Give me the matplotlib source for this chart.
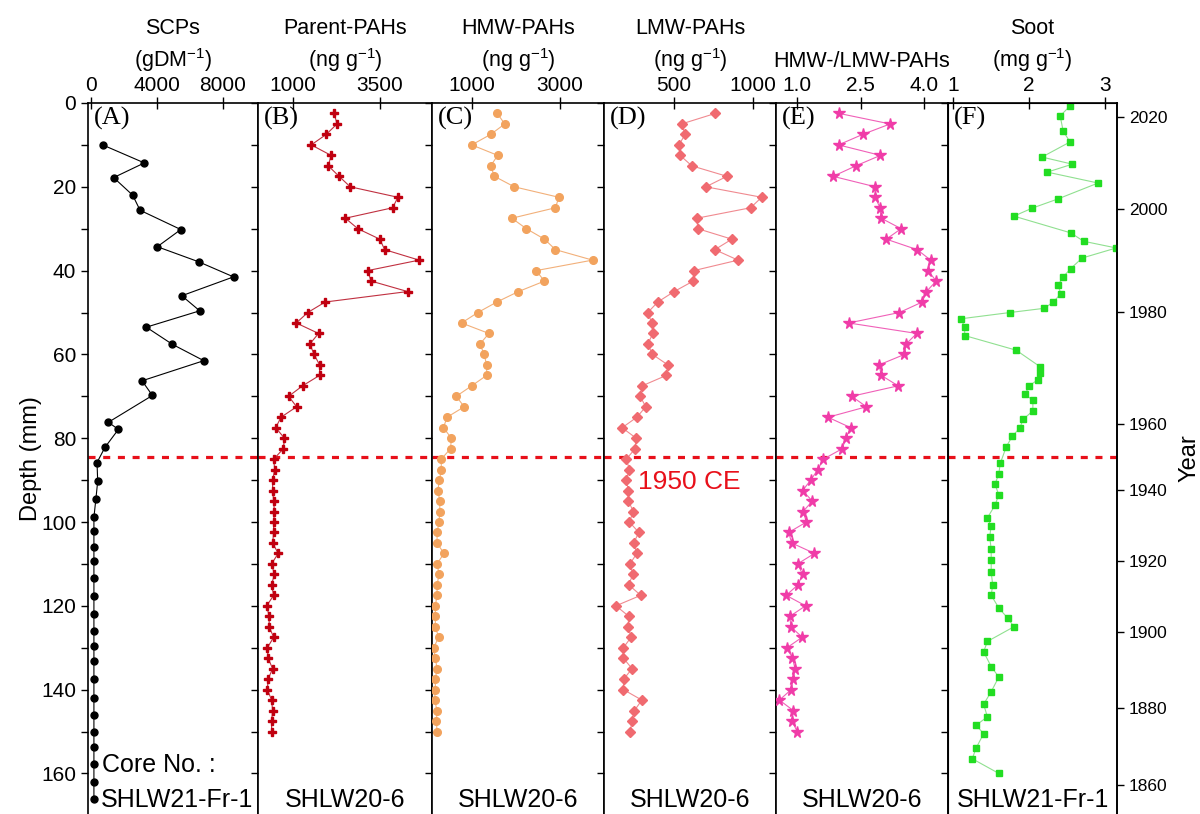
import matplotlib.pyplot as plt

plt.rcParams['font.family'] = ['Liberation Sans', 'DejaVu Sans']
plt.rcParams['mathtext.default'] = 'regular'

# core SHLW21-Fr-1 (SCPs)
depth_scp = [10, 14.3, 17.8, 22, 25.6, 30.2, 34.3, 37.9, 41.5, 46, 49.6, 53.5, 57.6, 61.5,
             66.3, 69.8, 76.2, 77.9, 82.2, 85.8, 90.3, 94.5, 98.9, 102.1, 105.9, 109.3,
             113.4, 117.6, 122, 126, 129.6, 133.1, 137.5, 141.9, 146.1, 150, 153.8, 157.8,
             162, 166.2]
scp = [690, 3230, 1360, 2520, 2970, 5450, 4020, 6540, 8660, 5510, 6600, 3350, 4940, 6850,
       3090, 3720, 1040, 1650, 830, 350, 390, 280, 160, 160, 160, 160, 160, 160, 160, 160,
       160, 160, 160, 160, 160, 160, 160, 160, 160, 160]

# core SHLW20-6
depth_pah = [2.5, 5, 7.5, 10, 12.5, 15, 17.5, 20, 22.5, 25, 27.5, 30, 32.5, 35, 37.5, 40,
             42.5, 45, 47.5, 50, 52.5, 55, 57.5, 60, 62.5, 65, 67.5, 70, 72.5, 75, 77.5, 80,
             82.5, 85, 87.5, 90, 92.5, 95, 97.5, 100, 102.5, 105, 107.5, 110, 112.5, 115,
             117.5, 120, 122.5, 125, 127.5, 130, 132.5, 135, 137.5, 140, 142.5, 145, 147.5, 150]
parent = [2190, 2270, 1960, 1530, 2100, 2020, 2330, 2650, 4020, 3870, 2510, 2870, 3500, 3640,
          4630, 3150, 3250, 4300, 1930, 1430, 1100, 1740, 1490, 1610, 1770, 1770, 1280, 880,
          1110, 660, 510, 760, 730, 450, 480, 420, 420, 450, 470, 450, 450, 420, 580, 390,
          470, 390, 450, 250, 320, 320, 450, 270, 290, 420, 290, 270, 390, 420, 390, 390]
hmw = [1580, 1750, 1430, 1000, 1590, 1430, 1515, 1965, 2975, 2900, 1910, 2240, 2650, 2900,
       3740, 2460, 2650, 2060, 1570, 1140, 770, 1390, 1190, 1280, 1340, 1340, 1000, 650, 830,
       440, 360, 540, 520, 310, 310, 270, 230, 280, 275, 260, 215, 215, 370, 215, 260, 215,
       215, 175, 175, 175, 250, 140, 175, 215, 175, 175, 160, 215, 200, 215]
lmw = [760, 547, 570, 530, 538, 612, 835, 701, 1055, 985, 644, 650, 866, 758, 905, 625, 621,
       500, 396, 333, 358, 365, 333, 362, 460, 451, 297, 284, 320, 263, 170, 259, 252, 197,
       216, 195, 210, 210, 241, 216, 276, 243, 263, 220, 238, 212, 288, 131, 212, 208, 227,
       178, 178, 233, 180, 178, 295, 248, 231, 223]
ratio = [2.00, 3.20, 2.55, 1.98, 2.97, 2.39, 1.85, 2.85, 2.85, 2.96, 2.99, 3.46, 3.11, 3.84,
         4.16, 4.10, 4.29, 4.06, 3.96, 3.42, 2.22, 3.83, 3.58, 3.54, 2.94, 2.99, 3.39, 2.29,
         2.64, 1.73, 2.27, 2.15, 2.07, 1.62, 1.49, 1.32, 1.13, 1.36, 1.14, 1.22, 0.80, 0.87,
         1.41, 1.01, 1.13, 1.02, 0.74, 1.20, 0.83, 0.85, 1.12, 0.76, 0.89, 0.95, 0.91, 0.86,
         0.58, 0.91, 0.88, 1.00]

# soot, core SHLW21-Fr-1
depth_soot = [0.7, 3.1, 6.7, 9.3, 12.9, 14.6, 16.5, 19.1, 22.9, 25.1, 27, 31, 33, 34.6, 37,
              39.5, 41.5, 43.5, 45.5, 47.5, 49, 50, 51.5, 53.5, 55.5, 59, 63, 64.5, 66, 67.5,
              69.5, 71, 73.5, 75.5, 77.5, 79.5, 82, 86, 88.5, 91, 93.5, 96, 99, 101, 103.5,
              106.5, 109, 112, 115, 117.5, 120.5, 123, 125, 128.5, 131, 134.5, 137, 140.5,
              143.5, 146.5, 148.5, 150.5, 154, 156.5, 160]
soot = [2.54, 2.41, 2.45, 2.54, 2.17, 2.57, 2.24, 2.91, 2.38, 2.04, 1.80, 2.55, 2.72, 3.15,
        2.70, 2.55, 2.45, 2.38, 2.42, 2.32, 2.20, 1.75, 1.10, 1.15, 1.15, 1.83, 2.15, 2.15,
        2.12, 2.00, 1.95, 2.05, 2.05, 1.92, 1.88, 1.78, 1.70, 1.62, 1.60, 1.55, 1.60, 1.55,
        1.45, 1.50, 1.48, 1.50, 1.50, 1.50, 1.52, 1.50, 1.60, 1.72, 1.80, 1.45, 1.40, 1.50,
        1.60, 1.50, 1.40, 1.45, 1.30, 1.40, 1.30, 1.25, 1.60]

years = [2020, 2000, 1980, 1960, 1940, 1920, 1900, 1880, 1860]
year_depth = [3.3, 25.3, 49.9, 76.6, 92.4, 109.3, 126.3, 144.4, 162.8]
depth_1950 = 84.6

W, H = 1200, 814
fig = plt.figure(figsize=(12, 8.14), dpi=100)
edges = [88, 258, 432, 604, 776, 948, 1117]
top_px = 103
ymax = (H - top_px) / 4.19

panels = [
    dict(x=scp, y=depth_scp, c='black', lc='black', m='o', ms=5, lim=(-200, 10150),
         ticks=[0, 4000, 8000], fmt='{:g}', title='SCPs\n(gDM$^{-1}$)', tag='(A)'),
    dict(x=parent, y=depth_pah, c='#C00010', lc='#C03040', m='P', ms=5.5, lim=(0, 5000),
         ticks=[1000, 3500], fmt='{:g}', title='Parent-PAHs\n(ng g$^{-1}$)', tag='(B)'),
    dict(x=hmw, y=depth_pah, c='#F2A35E', lc='#F2B07A', m='o', ms=5.5, lim=(100, 4000),
         ticks=[1000, 3000], fmt='{:g}', title='HMW-PAHs\n(ng g$^{-1}$)', tag='(C)'),
    dict(x=lmw, y=depth_pah, c='#F06A70', lc='#F08A90', m='D', ms=5, lim=(55, 1146),
         ticks=[500, 1000], fmt='{:g}', title='LMW-PAHs\n(ng g$^{-1}$)', tag='(D)'),
    dict(x=ratio, y=depth_pah, c='#F03CA8', lc='#F060B8', m='*', ms=8.5, lim=(0.5, 4.57),
         ticks=[1.0, 2.5, 4.0], fmt='{:.1f}', title='HMW-/LMW-PAHs', tag='(E)'),
    dict(x=soot, y=depth_soot, c='#22DD22', lc='#90E090', m='s', ms=4.5, lim=(0.93, 3.16),
         ticks=[1, 2, 3], fmt='{:g}', title='Soot\n(mg g$^{-1}$)', tag='(F)'),
]
cores = ['SHLW21-Fr-1', 'SHLW20-6', 'SHLW20-6', 'SHLW20-6', 'SHLW20-6', 'SHLW21-Fr-1']

axes = []
for i, p in enumerate(panels):
    ax = fig.add_axes([edges[i] / W, 0, (edges[i + 1] - edges[i]) / W, 1 - top_px / H])
    ax.plot(p['x'], p['y'], color=p['lc'], lw=0.8, marker=p['m'], ms=p['ms'],
            mfc=p['c'], mec=p['c'], zorder=3)
    ax.set_xlim(*p['lim'])
    ax.set_ylim(ymax, 0)
    ax.xaxis.tick_top()
    ax.set_xticks(p['ticks'])
    ax.set_xticklabels([p['fmt'].format(t) for t in p['ticks']])
    ax.tick_params(axis='x', direction='inout', length=8, width=1, labelsize=15, pad=2)
    ax.set_yticks(range(0, 170, 20))
    ax.set_yticks(range(10, 170, 20), minor=True)
    ax.tick_params(axis='y', which='both', direction='out', length=5, width=1,
                   left=True, right=(i < 5), labelsize=15)
    if i > 0:
        ax.tick_params(axis='y', labelleft=False)
    ax.spines['bottom'].set_visible(False)
    for s in ['top', 'left', 'right']:
        ax.spines[s].set_linewidth(1.2)
    ax.axhline(depth_1950, color='#E8101A', lw=2.3, dashes=(2.2, 2.4), zorder=2)
    ax.text(6 / (edges[i + 1] - edges[i]), 1 - 4 / (H - top_px), p['tag'],
            transform=ax.transAxes, family=['Liberation Serif'], fontsize=19,
            va='top', ha='left')
    ax.xaxis.set_label_position('top')
    ax.set_xlabel(p['title'], fontsize=15.5, labelpad=6, linespacing=1.35)
    axes.append(ax)

axes[0].set_ylabel('Depth (mm)', fontsize=17, labelpad=-1)
axes[0].text(0.085, 158, 'Core No. :', transform=axes[0].get_yaxis_transform(),
             fontsize=18, va='center', ha='left')
axes[0].text(0.075, 166.3, 'SHLW21-Fr-1', transform=axes[0].get_yaxis_transform(),
             fontsize=18, va='center', ha='left')
for i in range(1, 6):
    axes[i].text(0.5, 166.3, cores[i], transform=axes[i].get_yaxis_transform(),
                 fontsize=18, va='center', ha='center')

axes[3].text(0.2, 90.5, '1950 CE', transform=axes[3].get_yaxis_transform(),
             color='#E8101A', fontsize=19, va='center', ha='left')

yr = axes[5].twinx()
yr.set_ylim(ymax, 0)
yr.set_yticks(year_depth)
yr.set_yticklabels([str(y) for y in years])
yr.tick_params(axis='y', direction='out', length=5, width=1, labelsize=12.5)
yr.spines['bottom'].set_visible(False)
yr.spines['right'].set_linewidth(1.2)
yr.set_ylabel('Year', fontsize=17, labelpad=8)

fig.savefig('out.png', dpi=100)
